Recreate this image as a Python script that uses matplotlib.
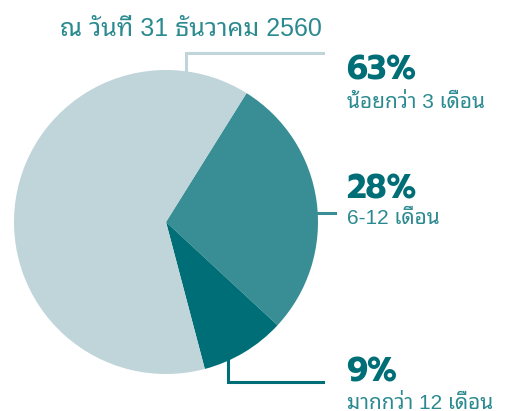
import matplotlib
matplotlib.use("Agg")
import matplotlib.pyplot as plt

# data
shares = [28, 9, 63]
pct_labels = ["28%", "9%", "63%"]
sub_labels = ["6-12 เดือน", "มากกว่า 12 เดือน", "น้อยกว่า 3 เดือน"]
colors = ["#388e94", "#006e76", "#bfd5da"]
title = "ณ วันที่ 31 ธันวาคม 2560"

W, H = 508, 411
thai = ["Liberation Sans", "Noto Sans Thai Looped", "DejaVu Sans"]
bold = ["Prompt", "DejaVu Sans"]

fig = plt.figure(figsize=(W / 100, H / 100), dpi=100)
ax = fig.add_axes([0, 0, 1, 1])

def Y(y):  # pixel-from-top -> data y
    return H - y

cx, cy, r = 166, 222, 152
ax.pie(shares, colors=colors, startangle=58, counterclock=False,
       center=(cx, Y(cy)), radius=r, frame=True,
       wedgeprops=dict(linewidth=0, zorder=3))
ax.set_xlim(0, W)
ax.set_ylim(0, H)
ax.set_aspect("equal")
ax.axis("off")

# leader lines (drawn under the pie)
ax.plot([186, 186, 323], [Y(110), Y(53), Y(53)], color=colors[2], lw=2.2, zorder=1, solid_joinstyle="miter")
ax.plot([300, 335], [Y(213), Y(213)], color=colors[0], lw=2.2, zorder=1)
ax.plot([228, 228, 323], [Y(330), Y(382), Y(382)], color=colors[1], lw=2.2, zorder=1, solid_joinstyle="miter")

ax.text(60, Y(36), title, fontsize=18, color="#2b8a90", family=thai, va="baseline", ha="left")

# right-hand labels: (pct baseline, sub baseline)
pos = {"63%": (79, 108), "28%": (199, 224), "9%": (382, 409)}
for p, s in zip(pct_labels, sub_labels):
    yb, ys = pos[p]
    ax.text(346, Y(yb), p, fontsize=24, fontweight="bold", color="#006e76",
            family=bold, va="baseline", ha="left")
    ax.text(347, Y(ys), s, fontsize=15, color="#2b8a90", family=thai,
            va="baseline", ha="left")

fig.savefig("out.png", dpi=100)
